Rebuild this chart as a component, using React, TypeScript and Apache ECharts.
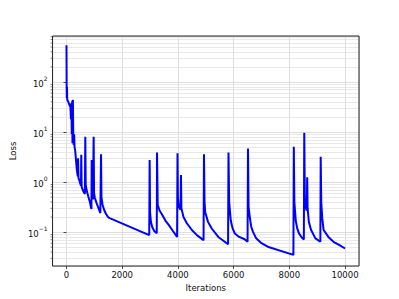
import React, { useEffect, useRef } from "react";
import * as echarts from "echarts";

const iterations: number[] = [
  0, 6, 12, 18, 25, 50, 80, 110, 140, 160, 175, 190, 205, 215, 230, 245, 260, 275, 290, 310,
  330, 350, 370, 390, 405, 415, 430, 460, 490, 520, 530, 545, 580, 620, 660, 675, 690, 720, 780, 840,
  880, 895, 905, 915, 950, 975, 990, 1020, 1080, 1150, 1215, 1240, 1255, 1290, 1350, 1420, 1490, 1550,
  2970, 2985, 3000, 3030, 3080, 3150, 3240, 3250, 3275, 3340, 3440, 3550, 3676, 3820, 3970,
  3985, 4000, 4030, 4095, 4110, 4125, 4200, 4320, 4500, 4700, 4920,
  4935, 4955, 4980, 5080, 5213, 5450, 5800,
  5815, 5840, 5897, 5960, 6040, 6200, 6394, 6500,
  6515, 6536, 6580, 6631, 6700, 6808, 7000, 7223, 8145,
  8160, 8180, 8230, 8280, 8345, 8430, 8520,
  8535, 8555, 8590, 8625, 8640, 8655, 8700, 8780, 8936, 9113,
  9125, 9145, 9180, 9230, 9400, 9585, 9800, 10000,
];

const loss: number[] = [
  540, 75, 48, 80, 45, 42, 38, 34, 32, 18, 38, 9, 42, 6, 44, 7, 5.5, 9, 5, 4.4,
  3.3, 2.4, 1.8, 1.5, 1.3, 3, 1.2, 1.1, 0.95, 0.85, 3.5, 0.8, 0.7, 0.63, 0.58, 8, 0.9, 0.7, 0.52, 0.4,
  0.31, 0.29, 2.75, 0.6, 0.45, 8, 0.6, 0.48, 0.38, 0.3, 0.24, 3.6, 0.5, 0.36, 0.28, 0.23, 0.2, 0.19,
  0.087, 2.75, 0.25, 0.16, 0.125, 0.105, 0.095, 3.9, 0.35, 0.27, 0.22, 0.17, 0.138, 0.105, 0.08,
  3.75, 0.5, 0.32, 0.28, 1.38, 0.3, 0.2, 0.15, 0.11, 0.085, 0.069,
  3.6, 0.4, 0.25, 0.16, 0.118, 0.08, 0.057,
  3.9, 0.4, 0.17, 0.12, 0.094, 0.08, 0.072, 0.064,
  4.7, 0.32, 0.2, 0.128, 0.1, 0.075, 0.06, 0.051, 0.035,
  5.1, 0.4, 0.17, 0.12, 0.094, 0.08, 0.071,
  9.7, 0.5, 0.3, 0.27, 1.24, 0.3, 0.16, 0.11, 0.075, 0.064,
  3.2, 0.4, 0.19, 0.11, 0.08, 0.064, 0.055, 0.047,
];

const minorGridValues: number[] = [
  0.03, 0.04, 0.05, 0.06, 0.07, 0.08, 0.09,
  0.2, 0.3, 0.4, 0.5, 0.6, 0.7, 0.8, 0.9,
  2, 3, 4, 5, 6, 7, 8, 9,
  20, 30, 40, 50, 60, 70, 80, 90,
  200, 300, 400, 500, 600, 700, 800,
];

const xMin = -500;
const xMax = 10500;
const yMin = 0.021;
const yMax = 830;

const FONT = "DejaVu Sans";

export default function App() {
  const ref = useRef<HTMLDivElement>(null);
  useEffect(() => {
    if (!ref.current) return;
    const chart = echarts.init(ref.current, null, { renderer: "svg" });
    const lineData = iterations.map((x, i) => [x, loss[i]]);
    chart.setOption({
      animation: false,
      backgroundColor: "#ffffff",
      grid: {
        left: 50,
        right: 40,
        top: 36,
        bottom: 33,
        show: true,
        borderColor: "#222",
        borderWidth: 1,
        backgroundColor: "transparent",
        z: 10,
      },
      xAxis: {
        type: "value",
        min: xMin,
        max: xMax,
        splitNumber: 5,
        name: "Iterations",
        nameLocation: "middle",
        nameGap: 16,
        nameTextStyle: { fontFamily: FONT, fontSize: 8.5, color: "#111" },
        axisLine: { show: false },
        axisTick: { show: true, length: 3, lineStyle: { color: "#222", width: 0.8 } },
        axisLabel: {
          fontFamily: FONT,
          fontSize: 8.5,
          color: "#111",
          margin: 4,
          showMinLabel: false,
          showMaxLabel: false,
          formatter: (v: number) => String(v),
        },
        splitLine: { show: true, lineStyle: { color: "#d6d6d6", width: 0.8 } },
      },
      yAxis: {
        type: "log",
        logBase: 10,
        min: yMin,
        max: yMax,
        name: "Loss",
        nameLocation: "middle",
        nameGap: 32,
        nameTextStyle: { fontFamily: FONT, fontSize: 8.5, color: "#111" },
        axisLine: { show: false },
        axisTick: { show: true, length: 3, lineStyle: { color: "#222", width: 0.8 } },
        axisLabel: {
          fontFamily: FONT,
          fontSize: 8.5,
          color: "#111",
          margin: 5,
          showMinLabel: false,
          showMaxLabel: false,
          formatter: (v: number) => {
            const e = Math.round(Math.log10(v));
            const s = e < 0 ? "\u2212" + Math.abs(e) : String(e);
            return "{b|10}{s|" + s + "}";
          },
          rich: {
            b: { fontFamily: FONT, fontSize: 8.5, color: "#111", verticalAlign: "bottom", lineHeight: 13 },
            s: { fontFamily: FONT, fontSize: 6, color: "#111", verticalAlign: "top", lineHeight: 13 },
          },
        },
        splitLine: { show: true, lineStyle: { color: "#d6d6d6", width: 0.8 } },
      },
      series: [
        {
          type: "scatter",
          z: 1,
          silent: true,
          clip: false,
          symbol: "rect",
          symbolSize: [2, 0.7],
          symbolOffset: [-1, 0],
          itemStyle: { color: "#222" },
          data: minorGridValues.map((v) => [xMin, v]),
          markLine: {
            silent: true,
            z: 1,
            symbol: "none",
            label: { show: false },
            emphasis: { disabled: true },
            lineStyle: { color: "#e2e2e2", width: 0.8, type: "solid" },
            data: minorGridValues.map((v) => ({ yAxis: v })),
          },
        },
        {
          type: "line",
          z: 3,
          showSymbol: false,
          symbol: "none",
          lineStyle: { color: "#0000ff", width: 2 },
          data: lineData,
        },
      ],
    });
    return () => chart.dispose();
  }, []);
  return <div ref={ref} style={{ width: 399, height: 299, position: "absolute", left: 0, top: 0 }} />;
}
